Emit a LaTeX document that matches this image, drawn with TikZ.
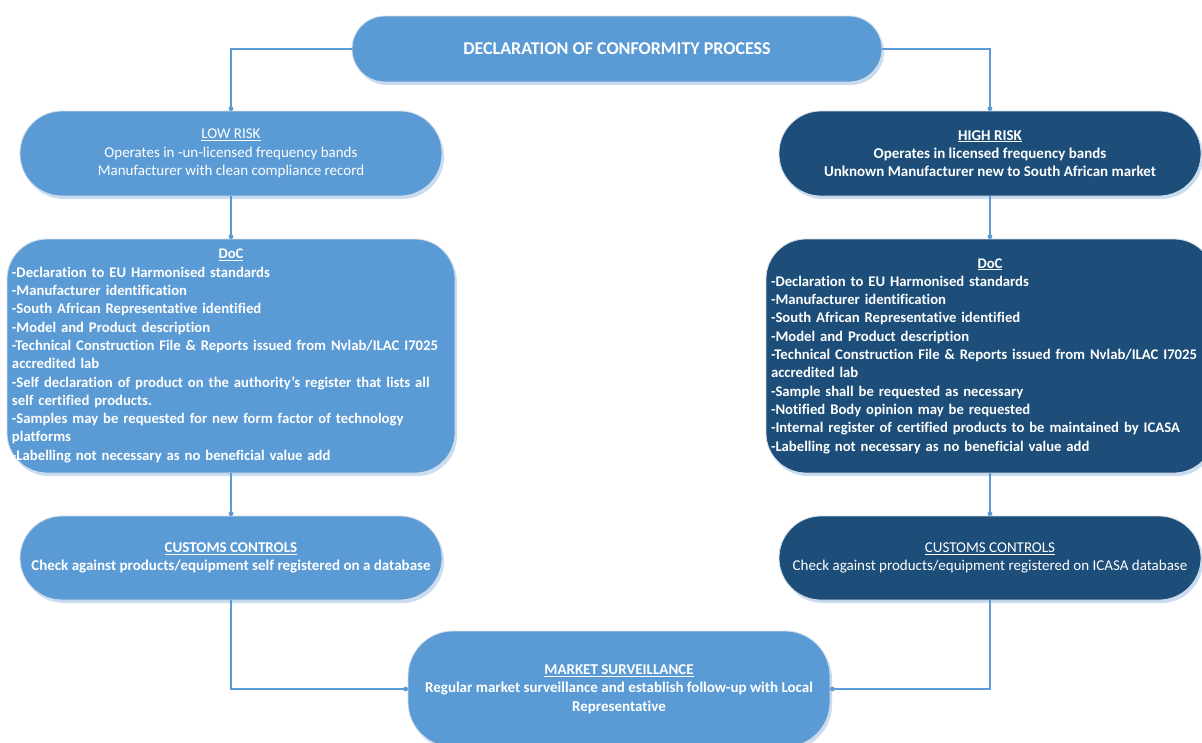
\documentclass[tikz,border=0pt]{standalone}
\usepackage{fontspec}
\setmainfont{Carlito}[Ligatures={NoCommon}]
\usetikzlibrary{arrows.meta,shadows}
\definecolor{lightblue}{HTML}{5B9BD5}
\definecolor{darkblue}{HTML}{1C4E79}
\definecolor{shadowblue}{HTML}{C9DCF0}
\definecolor{edgegray}{HTML}{D5DEE8}
\begin{document}
\begin{tikzpicture}[x=1pt,y=-1pt,
  box/.style={rectangle, draw=edgegray, line width=0.8pt, text=white,
    font=\fontsize{15}{18.3}\selectfont, align=center, inner sep=5pt,
    drop shadow={shadow xshift=2pt, shadow yshift=-3pt, fill=shadowblue, opacity=1}},
  lbox/.style={box, fill=lightblue},
  dbox/.style={box, fill=darkblue},
  doctext/.style={text width=438pt, align=left, font=\fontsize{14.7}{18.3}\selectfont\bfseries},
  conn/.style={draw=lightblue, line width=1.1pt},
  dot/.style={fill=lightblue}]
\useasboundingbox (0,0) rectangle (1202,742);
\fill[white] (0,0) rectangle (1202,742);

\node[lbox, minimum width=530pt, minimum height=66pt, rounded corners=33pt,
  font=\fontsize{18}{20}\selectfont\bfseries] (top) at (617,49)
  {DECLARATION OF CONFORMITY PROCESS};

\node[lbox, minimum width=422pt, minimum height=85pt, rounded corners=42pt] (low) at (231,153.5)
  {\underline{LOW RISK}\\Operates in -un-licensed frequency bands\\Manufacturer with clean compliance record};

\node[dbox, minimum width=422pt, minimum height=85pt, rounded corners=42pt,
  font=\fontsize{15}{18.3}\selectfont\bfseries] (high) at (990,153.5)
  {\underline{HIGH RISK}\\Operates in licensed frequency bands\\Unknown Manufacturer new to South African market};

\node[lbox, minimum width=448pt, minimum height=234pt, rounded corners=40pt, doctext] (docl) at (231,356)
  {\centering\underline{DoC}\par\raggedright
  -Declaration to EU Harmonised standards\\
  -Manufacturer identification\\
  -South African Representative identified\\
  -Model and Product description\\
  -Technical Construction File \& Reports issued from Nvlab/ILAC I7025\\accredited lab\\
  -Self declaration of product on the authority’s register that lists all\\self certified products.\\
  -Samples may be requested for new form factor of technology\\platforms\\
  -Labelling not necessary as no beneficial value add};

\node[dbox, minimum width=448pt, minimum height=234pt, rounded corners=40pt, doctext] (docr) at (990,356)
  {\centering\underline{DoC}\par\raggedright
  -Declaration to EU Harmonised standards\\
  -Manufacturer identification\\
  -South African Representative identified\\
  -Model and Product description\\
  -Technical Construction File \& Reports issued from Nvlab/ILAC I7025\\accredited lab\\
  -Sample shall be requested as necessary\\
  -Notified Body opinion may be requested\\
  -Internal register of certified products to be maintained by ICASA\\
  -Labelling not necessary as no beneficial value add};

\node[lbox, minimum width=422pt, minimum height=84pt, rounded corners=42pt,
  font=\fontsize{15}{18.3}\selectfont\bfseries] (custl) at (231,558)
  {\underline{CUSTOMS CONTROLS}\\Check against products/equipment self registered on a database};

\node[dbox, minimum width=422pt, minimum height=84pt, rounded corners=42pt] (custr) at (990,558)
  {\underline{CUSTOMS CONTROLS}\\Check against products/equipment registered on ICASA database};

\node[lbox, minimum width=422pt, minimum height=116pt, rounded corners=45pt,
  font=\fontsize{15}{18.3}\selectfont\bfseries] (market) at (619,689)
  {\underline{MARKET SURVEILLANCE}\\Regular market surveillance and establish follow-up with Local\\Representative};

\draw[conn] (top.west) -| ([yshift=2pt]low.north);
\draw[conn] (top.east) -| ([yshift=2pt]high.north);
\draw[conn] (low.south) -- ([yshift=2pt]docl.north);
\draw[conn] (high.south) -- ([yshift=2pt]docr.north);
\draw[conn] (docl.south) -- ([yshift=2pt]custl.north);
\draw[conn] (docr.south) -- ([yshift=2pt]custr.north);
\draw[conn] (custl.south) |- ([xshift=-2pt]market.west);
\draw[conn] (custr.south) |- ([xshift=2pt]market.east);
\fill[dot] ([yshift=2pt]low.north) circle (2.4pt);
\fill[dot] ([yshift=2pt]high.north) circle (2.4pt);
\fill[dot] ([yshift=2pt]docl.north) circle (2.4pt);
\fill[dot] ([yshift=2pt]docr.north) circle (2.4pt);
\fill[dot] ([yshift=2pt]custl.north) circle (2.4pt);
\fill[dot] ([yshift=2pt]custr.north) circle (2.4pt);
\fill[dot] ([xshift=-2pt]market.west) circle (2.4pt);
\fill[dot] ([xshift=2pt]market.east) circle (2.4pt);
\end{tikzpicture}
\end{document}
